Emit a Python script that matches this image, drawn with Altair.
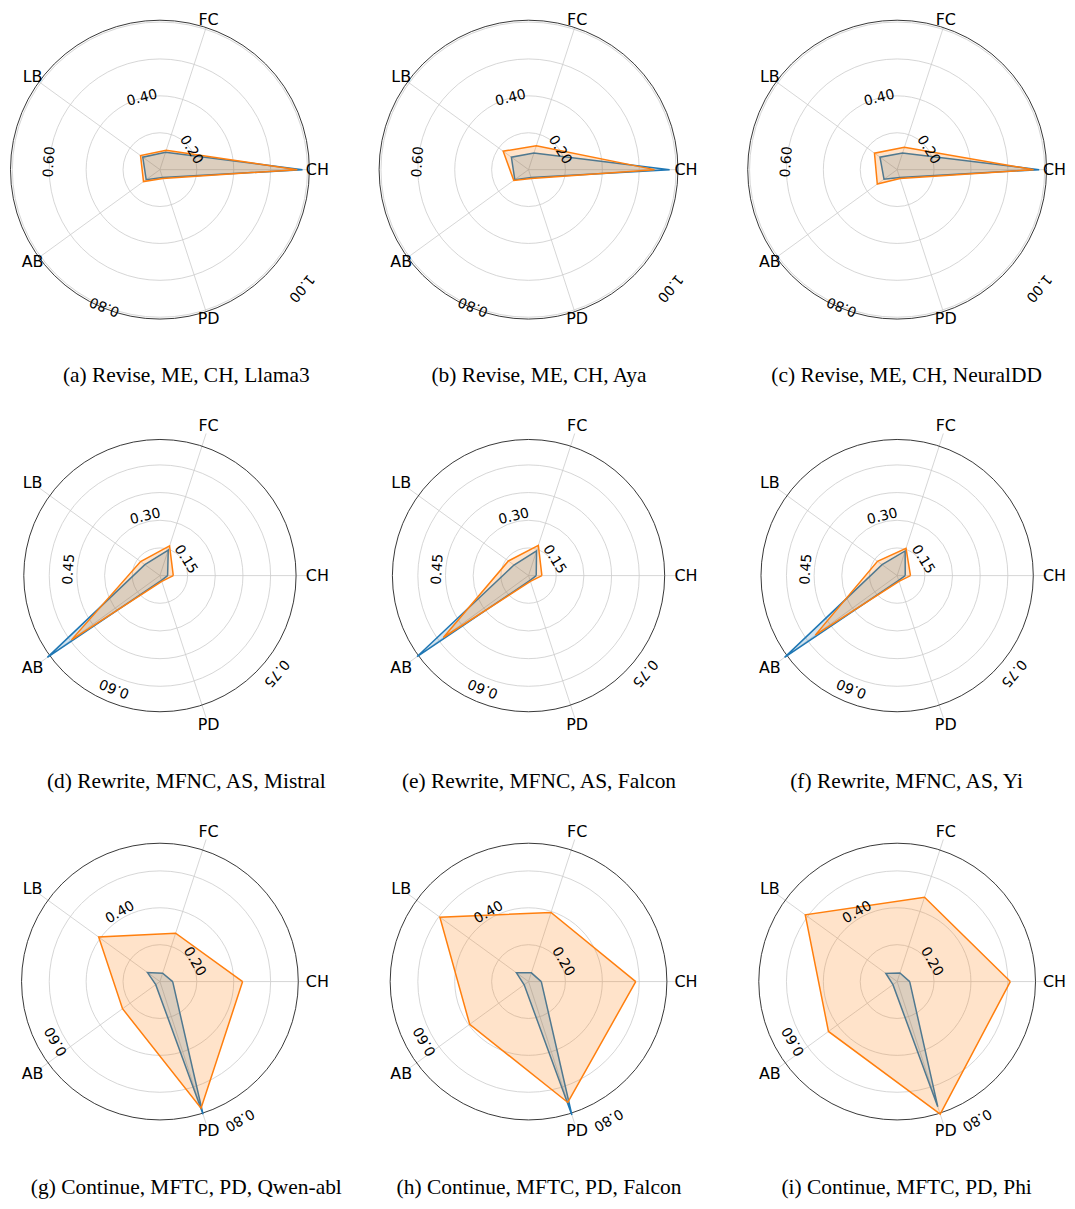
import math
import altair as alt
import pandas as pd

CATEGORIES = ["CH", "FC", "LB", "AB", "PD"]

# values per axis, in the order CH, FC, LB, AB, PD
a_blue = [0.773, 0.099, 0.115, 0.092, 0.045]
a_orange = [0.745, 0.110, 0.130, 0.110, 0.050]
b_blue = [0.765, 0.095, 0.115, 0.092, 0.045]
b_orange = [0.683, 0.136, 0.170, 0.099, 0.050]
c_blue = [0.770, 0.095, 0.115, 0.088, 0.045]
c_orange = [0.740, 0.127, 0.152, 0.133, 0.050]
d_blue = [0.038, 0.133, 0.092, 0.687, 0.025]
d_orange = [0.066, 0.154, 0.118, 0.540, 0.030]
e_blue = [0.038, 0.128, 0.089, 0.680, 0.025]
e_orange = [0.066, 0.157, 0.123, 0.520, 0.030]
f_blue = [0.040, 0.128, 0.092, 0.687, 0.025]
f_orange = [0.066, 0.142, 0.120, 0.500, 0.030]
g_blue = [0.064, 0.044, 0.077, 0.026, 0.700]
g_orange = [0.415, 0.255, 0.380, 0.232, 0.668]
h_blue = [0.064, 0.046, 0.075, 0.027, 0.704]
h_orange = [0.538, 0.365, 0.550, 0.365, 0.638]
i_blue = [0.063, 0.045, 0.070, 0.026, 0.660]
i_orange = [0.568, 0.445, 0.570, 0.426, 0.700]

TICKS_ROW1 = [0.20, 0.40, 0.60, 0.80, 1.00]
TICKS_ROW2 = [0.15, 0.30, 0.45, 0.60, 0.75]
TICKS_ROW3 = [0.20, 0.40, 0.60, 0.80]
TICK_LABELS_ROW1 = ["0.20", "0.40", "0.60", "0.80", "1.00"]
TICK_LABELS_ROW2 = ["0.15", "0.30", "0.45", "0.60", "0.75"]
TICK_LABELS_ROW3 = ["0.20", "0.40", "0.60", "0.80"]
RMAX_ROWS = [0.81, 0.738, 0.75]
LABEL_START_ROWS = [32, 32, 30]

CAPTIONS = [
    "(a) Revise, ME, CH, Llama3",
    "(b) Revise, ME, CH, Aya",
    "(c) Revise, ME, CH, NeuralDD",
    "(d) Rewrite, MFNC, AS, Mistral",
    "(e) Rewrite, MFNC, AS, Falcon",
    "(f) Rewrite, MFNC, AS, Yi",
    "(g) Continue, MFTC, PD, Qwen-abl",
    "(h) Continue, MFTC, PD, Falcon",
    "(i) Continue, MFTC, PD, Phi",
]

BLUE = "#1f77b4"
ORANGE = "#ff7f0e"
GRID = "#cbcbcb"
N = len(CATEGORIES)

W, H = 301, 320
R_PX = 150.0
LABEL_FACTOR = 158.0 / 150.0
CAPTION_SHIFT = [26.5, 10.5, 9.5]


def panel(blue, orange, ticks, tick_labels, rmax, start, caption, shift):
    xs = alt.Scale(domain=[-rmax * W / 2 / R_PX, rmax * W / 2 / R_PX], nice=False, zero=False)
    ys = alt.Scale(domain=[-rmax * H / 2 / R_PX, rmax * H / 2 / R_PX], nice=False, zero=False)
    # circle symbol radius = sqrt(size)/2  ->  size grows with the square of the value
    ss = alt.Scale(type="pow", exponent=2, domain=[0, rmax], range=[0, 4 * R_PX ** 2],
                   zero=True, nice=False)

    ring_df = pd.DataFrame({"r": [t for t in ticks if t < rmax]})
    rings = alt.Chart(ring_df).transform_calculate(zero="0").mark_point(
        shape="circle", filled=False, stroke=GRID, strokeWidth=0.8, opacity=1
    ).encode(
        x=alt.X("zero:Q", scale=xs, axis=None),
        y=alt.Y("zero:Q", scale=ys, axis=None),
        size=alt.Size("r:Q", scale=ss, legend=None),
    )

    spine = alt.Chart(pd.DataFrame({"r": [rmax]})).transform_calculate(zero="0").mark_point(
        shape="circle", filled=False, stroke="#222222", strokeWidth=0.9, opacity=1
    ).encode(
        x=alt.X("zero:Q", scale=xs, axis=None),
        y=alt.Y("zero:Q", scale=ys, axis=None),
        size=alt.Size("r:Q", scale=ss, legend=None),
    )

    cat_df = pd.DataFrame({"cat": CATEGORIES, "k": list(range(N))})
    spokes = alt.Chart(cat_df).transform_calculate(
        ang=f"datum.k * 2 * PI / {N}"
    ).transform_calculate(
        zero="0",
        ex=f"{rmax} * cos(datum.ang)",
        ey=f"{rmax} * sin(datum.ang)",
    ).mark_rule(stroke=GRID, strokeWidth=0.8).encode(
        x=alt.X("zero:Q", scale=xs, axis=None),
        y=alt.Y("zero:Q", scale=ys, axis=None),
        x2="ex:Q",
        y2="ey:Q",
    )

    cat_labels = alt.Chart(cat_df).transform_calculate(
        ang=f"datum.k * 2 * PI / {N}"
    ).transform_calculate(
        lx=f"{rmax * LABEL_FACTOR} * cos(datum.ang)",
        ly=f"{rmax * LABEL_FACTOR} * sin(datum.ang)",
    ).mark_text(
        font="DejaVu Sans", fontSize=16, color="black", align="center", baseline="middle"
    ).encode(
        x=alt.X("lx:Q", scale=xs, axis=None),
        y=alt.Y("ly:Q", scale=ys, axis=None),
        text="cat:N",
    )

    nt = len(ticks)
    tick_df = pd.DataFrame({"tick": ticks, "label": tick_labels, "j": list(range(nt))})
    tick_text = alt.Chart(tick_df).transform_calculate(
        deg=f"{start} + datum.j * 360 / {nt}"
    ).transform_calculate(
        tx="datum.tick * cos(datum.deg * PI / 180)",
        ty="datum.tick * sin(datum.deg * PI / 180)",
        rot="((90 - datum.deg) % 360 + 360) % 360",
    ).mark_text(
        font="DejaVu Sans", fontSize=14, color="black", align="center", baseline="middle"
    ).encode(
        x=alt.X("tx:Q", scale=xs, axis=None),
        y=alt.Y("ty:Q", scale=ys, axis=None),
        text="label:N",
        angle=alt.Angle("rot:Q", scale=None),
    )

    def poly(vals, color, op):
        df = pd.DataFrame({"k": list(range(N + 1)), "value": vals + vals[:1]})
        return alt.Chart(df).transform_calculate(
            ang=f"datum.k * 2 * PI / {N}"
        ).transform_calculate(
            px="datum.value * cos(datum.ang)",
            py="datum.value * sin(datum.ang)",
        ).mark_line(
            stroke=color, strokeWidth=1.5, fill=color, fillOpacity=op
        ).encode(
            x=alt.X("px:Q", scale=xs, axis=None),
            y=alt.Y("py:Q", scale=ys, axis=None),
            order="k:Q",
        )

    return alt.layer(
        rings, spokes, spine,
        poly(blue, BLUE, 0.2), poly(orange, ORANGE, 0.22),
        tick_text, cat_labels,
    ).properties(
        width=W,
        height=H,
        title=alt.TitleParams(
            caption, orient="bottom", anchor="middle", frame="group",
            font="Liberation Serif", fontSize=21.5, fontWeight="normal",
            color="black", offset=36, dx=shift,
        ),
    )


series = [
    (a_blue, a_orange), (b_blue, b_orange), (c_blue, c_orange),
    (d_blue, d_orange), (e_blue, e_orange), (f_blue, f_orange),
    (g_blue, g_orange), (h_blue, h_orange), (i_blue, i_orange),
]
row_ticks = [TICKS_ROW1, TICKS_ROW2, TICKS_ROW3]
row_labels = [TICK_LABELS_ROW1, TICK_LABELS_ROW2, TICK_LABELS_ROW3]

panels = []
for r in range(3):
    for c in range(3):
        idx = r * 3 + c
        bl, orv = series[idx]
        panels.append(panel(bl, orv, row_ticks[r], row_labels[r], RMAX_ROWS[r],
                            LABEL_START_ROWS[r], CAPTIONS[idx], CAPTION_SHIFT[c]))

chart = alt.concat(
    *panels, columns=3, spacing={"row": 87.5, "column": 69}, bounds="flush"
).properties(padding=0).configure_view(stroke=None)

chart.save("out.html", embed_options={"renderer": "svg", "actions": False})
